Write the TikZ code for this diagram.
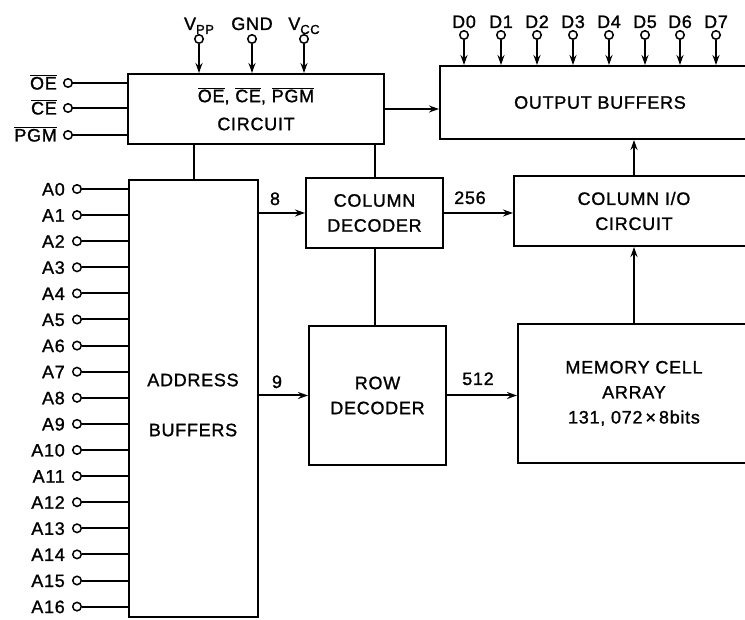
\documentclass[tikz,border=0pt]{standalone}
\usepackage{fontspec}
\setmainfont{Liberation Sans}[LetterSpace=4, FakeBold=1.2]
\usetikzlibrary{arrows.meta,calc}
\newcommand{\ovl}[1]{$\overline{\hbox{#1}}$}
\newcommand{\subsc}[1]{\raisebox{-4pt}{\fontsize{13}{13}\selectfont #1}}
\begin{document}
\begin{tikzpicture}[x=1pt,y=-1pt,
  every node/.style={font=\fontsize{18}{25}\selectfont},
  blk/.style={draw, line width=2pt, anchor=north west, inner sep=0pt, align=center},
  pinc/.style={draw, circle, line width=1.5pt, minimum size=8.5pt, inner sep=0pt},
  lbl/.style={inner sep=0pt},
  wire/.style={line width=2pt},
  arr/.style={wire, -{Stealth[length=10pt,width=7pt]}}
]
\useasboundingbox (0,0) rectangle (745,620);
\clip (0,0) rectangle (745,620);

% blocks
\node[blk, minimum width=256pt, minimum height=70pt] (circ) at (127,73)
  {\ovl{OE}, \ovl{CE}, \ovl{PGM}\\[3pt]CIRCUIT};
\node[blk, minimum width=320pt, minimum height=73pt] (outb) at (439,65)
  {\raisebox{-5pt}{OUTPUT BUFFERS}};
\node[blk, minimum width=129pt, minimum height=437pt] (addr) at (128,179) {};
\node[lbl, align=center] (addrt) at (193,405) {ADDRESS\\[25pt]BUFFERS};
\node[blk, minimum width=137pt, minimum height=70pt] (cold) at (305,177)
  {COLUMN\\DECODER};
\node[blk, minimum width=240pt, minimum height=70pt] (coli) at (513,175)
  {COLUMN I/O\\CIRCUIT};
\node[blk, minimum width=137pt, minimum height=139pt] (rowd) at (308,325)
  {ROW\\DECODER};
\node[blk, minimum width=232pt, minimum height=139pt] (mem) at (517,323)
  {\raisebox{-5pt}{\begin{tabular}{@{}c@{}}MEMORY CELL\\ARRAY\\131, 072\,×\,8bits\end{tabular}}};

% power pins
\foreach \n/\x/\t in {vpp/199/{V\subsc{PP}}, gnd/252/GND, vcc/304/{V\subsc{CC}}} {
  \node[pinc] (\n) at (\x,39) {};
  \node[lbl, anchor=base] (l\n) at (\x,30) {\t};
  \draw[arr] (\n.south) -- (\n |- circ.north);
}

% data pins
\foreach \i/\x in {0/464,1/501,2/537,3/573,4/609,5/645,6/680,7/716} {
  \node[pinc] (d\i) at (\x,35) {};
  \node[lbl, anchor=base] (ld\i) at (\x,28) {D\i};
  \draw[arr] (d\i.south) -- (d\i |- outb.north);
}

% control pins
\foreach \n/\y/\t in {oe/83/{\ovl{OE}}, ce/108/{\ovl{CE}}, pgm/135/{\ovl{PGM}}} {
  \node[pinc] (\n) at (68,\y) {};
  \node[lbl, anchor=base east] (l\n) at ([shift={(-6,6.5)}]\n.west) {\t};
  \draw[wire] (\n.east) -- (\n -| circ.west);
}

% address pins
\foreach \i in {0,...,16} {
  \pgfmathsetmacro\yy{189+26.1*\i}
  \node[pinc] (a\i) at (77,\yy) {};
  \node[lbl, anchor=base east] (la\i) at ([shift={(-7,6.5)}]a\i.west) {A\i};
  \draw[wire] (a\i.east) -- (a\i -| addr.west);
}

% connections
\draw[wire] (addr.north) -- (addr.north |- circ.south);
\draw[wire] (cold.north) -- (cold.north |- circ.south);
\draw[wire] (cold.south) -- (cold.south |- rowd.north);
\draw[arr] (circ.east) -- (circ.east -| outb.west);
\draw[arr] (cold.west -| addr.east) -- (cold.west);
\draw[arr] (rowd.west -| addr.east) -- (rowd.west);
\draw[arr] (cold.east) -- (cold.east -| coli.west);
\draw[arr] (rowd.east) -- (rowd.east -| mem.west);
\draw[arr] (mem.north) -- (mem.north |- coli.south);
\draw[arr] (coli.north) -- (coli.north |- outb.south);

% bus widths
\node[lbl, anchor=base] (n8) at (275,205) {8};
\node[lbl, anchor=base] (n9) at (277,388) {9};
\node[lbl, anchor=base] (n256) at (470,204) {256};
\node[lbl, anchor=base] (n512) at (478,385) {512};
\end{tikzpicture}
\end{document}
